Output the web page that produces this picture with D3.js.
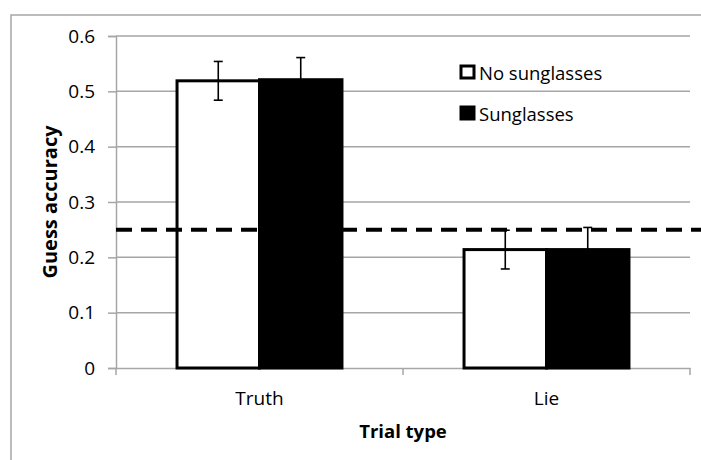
<!DOCTYPE html>
<html><head><meta charset="utf-8">
<script src="https://cdn.jsdelivr.net/npm/d3@7"></script>
<style>
html,body{margin:0;padding:0;background:#fff;}
text{font-family:"Open Sans",sans-serif;fill:#000;}
</style></head>
<body>
<svg id="chart" width="701" height="460"></svg>
<script>
const categories = ["Truth", "Lie"];
const seriesNames = ["No sunglasses", "Sunglasses"];
const noSunglasses = [0.519, 0.214];
const sunglasses = [0.521, 0.214];
const noSunglassesErr = [0.035, 0.035];
const sunglassesErr = [0.040, 0.040];
const chanceLevel = 0.25;
const yTicks = [0, 0.1, 0.2, 0.3, 0.4, 0.5, 0.6];
const yTitle = "Guess accuracy";
const xTitle = "Trial type";

const seriesVals = [noSunglasses, sunglasses];
const seriesErrs = [noSunglassesErr, sunglassesErr];
const fills = ["#ffffff", "#000000"];

const svg = d3.select("#chart");
const L = 116, R = 690, T = 36, B = 368;

const y = d3.scaleLinear().domain([0, 0.6]).range([B, T]);
const x = d3.scaleBand().domain(categories).range([L, R]).paddingInner(0).paddingOuter(0);
const xs = d3.scaleBand().domain(seriesNames).range([0, x.bandwidth()]).paddingInner(0).paddingOuter(0.74);

// outer frame (top & left visible)
svg.append("path").attr("d", `M11,460 L11,15 L701,15`).attr("fill", "none")
  .attr("stroke", "#a6a6a6").attr("stroke-width", 1.5);

// gridlines
svg.append("g").selectAll("line").data(yTicks.filter(d => d > 0)).join("line")
  .attr("x1", L).attr("x2", R).attr("y1", d => y(d)).attr("y2", d => y(d))
  .attr("stroke", "#a6a6a6").attr("stroke-width", 1.5);

// y axis
const yAxis = svg.append("g").attr("transform", `translate(${L},0)`)
  .call(d3.axisLeft(y).tickValues(yTicks).tickFormat(d => d === 0 ? "0" : d3.format(".1f")(d)).tickSize(8).tickPadding(13));
yAxis.select(".domain").attr("stroke", "#a6a6a6").attr("stroke-width", 1.5);
yAxis.selectAll(".tick line").attr("stroke", "#a6a6a6").attr("stroke-width", 1.5);
yAxis.selectAll(".tick text").attr("font-family", "Open Sans").attr("font-size", 19).attr("fill", "#000");

// x axis
const xAxis = svg.append("g").attr("transform", `translate(0,${B})`)
  .call(d3.axisBottom(x).tickSize(0).tickPadding(24));
xAxis.select(".domain").attr("stroke", "#a6a6a6").attr("stroke-width", 1.5);
xAxis.selectAll(".tick text").attr("font-family", "Open Sans").attr("font-size", 19).attr("fill", "#000");
// x boundary ticks
const bounds = [L, ...categories.slice(1).map(c => x(c)), R];
svg.append("g").selectAll("line").data(bounds).join("line")
  .attr("x1", d => d).attr("x2", d => d).attr("y1", B).attr("y2", B + 7)
  .attr("stroke", "#a6a6a6").attr("stroke-width", 1.5);

// bars
const rows = [];
categories.forEach((c, i) => seriesNames.forEach((s, j) => rows.push({c, s, j, v: seriesVals[j][i], e: seriesErrs[j][i]})));
svg.append("g").selectAll("rect").data(rows).join("rect")
  .attr("x", d => x(d.c) + xs(d.s))
  .attr("y", d => y(d.v))
  .attr("width", xs.bandwidth())
  .attr("height", d => B - y(d.v))
  .attr("fill", d => fills[d.j])
  .attr("stroke", "#000").attr("stroke-width", 3);

// error bars
const eg = svg.append("g").attr("stroke", "#000").attr("stroke-width", 1.6);
rows.forEach(d => {
  const cx = x(d.c) + xs(d.s) + xs.bandwidth() / 2;
  eg.append("line").attr("x1", cx).attr("x2", cx).attr("y1", y(d.v + d.e)).attr("y2", y(d.v - d.e));
  eg.append("line").attr("x1", cx - 4.5).attr("x2", cx + 4.5).attr("y1", y(d.v + d.e)).attr("y2", y(d.v + d.e));
  eg.append("line").attr("x1", cx - 4.5).attr("x2", cx + 4.5).attr("y1", y(d.v - d.e)).attr("y2", y(d.v - d.e));
});

// chance line
svg.append("line").attr("x1", L).attr("x2", 701).attr("y1", y(chanceLevel)).attr("y2", y(chanceLevel))
  .attr("stroke", "#000").attr("stroke-width", 4).attr("stroke-dasharray", "16,9");

// legend
const lg = svg.append("g");
seriesNames.forEach((s, j) => {
  const yy = 66 + j * 41;
  lg.append("rect").attr("x", 461).attr("y", yy).attr("width", 13).attr("height", 12)
    .attr("fill", fills[j]).attr("stroke", "#000").attr("stroke-width", 3);
  lg.append("text").attr("x", 479).attr("y", yy + 14).attr("font-size", 18.5).text(s);
});

// titles
svg.append("text").attr("transform", `translate(57,${(T + B) / 2}) rotate(-90)`)
  .attr("text-anchor", "middle").attr("font-weight", "bold").attr("font-size", 20).text(yTitle);
svg.append("text").attr("x", x(categories[1])).attr("y", 438)
  .attr("text-anchor", "middle").attr("font-weight", "bold").attr("font-size", 18.5).text(xTitle);
</script>
</body></html>
